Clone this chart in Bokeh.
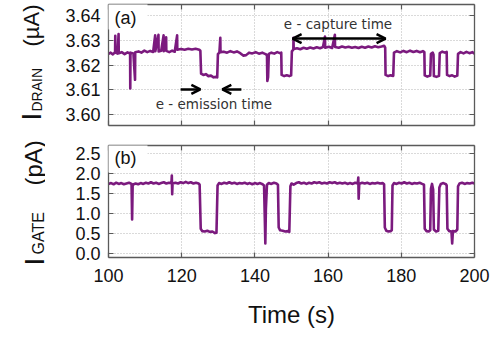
from math import pi
from bokeh.plotting import figure
from bokeh.models import (Range1d, LinearAxis, FixedTicker, Label, Arrow, OpenHead,
                          BoxAnnotation, CustomJSTickFormatter)
from bokeh.layouts import column, row
from bokeh.embed import file_html
from bokeh.resources import INLINE

# ---------------- data ----------------
x_ticks = [100, 120, 140, 160, 180, 200]
drain_ticks = [3.60, 3.61, 3.62, 3.63, 3.64]
gate_ticks = [0.0, 0.5, 1.0, 1.5, 2.0, 2.5]

drain_trace = [
    (100.0, 3.6245), (100.6, 3.6250), (101.2, 3.6243), (101.8, 3.6252), (101.85, 3.6318), (101.9, 3.6250),
    (102.5, 3.6246), (102.75, 3.6325), (102.8, 3.6248), (103.6, 3.6252), (104.4, 3.6244), (105.2, 3.6251),
    (105.9, 3.6246), (105.95, 3.6105), (106.0, 3.6250), (106.8, 3.6247), (107.25, 3.6140), (107.3, 3.6252),
    (108.2, 3.6255), (109.0, 3.6250), (109.8, 3.6258), (110.6, 3.6252), (111.4, 3.6257), (112.2, 3.6253),
    (112.75, 3.6320), (112.8, 3.6256), (113.65, 3.6322), (113.7, 3.6255), (114.4, 3.6258), (115.05, 3.6320),
    (115.1, 3.6256), (115.75, 3.6312), (115.8, 3.6257), (116.6, 3.6252), (117.4, 3.6258), (118.1, 3.6254),
    (118.75, 3.6320), (118.8, 3.6262), (119.8, 3.6265), (120.8, 3.6262), (121.8, 3.6266), (122.8, 3.6263),
    (123.8, 3.6266), (124.8, 3.6262), (125.1, 3.6258), (125.3, 3.6165), (125.9, 3.6160), (126.6, 3.6163),
    (127.3, 3.6155), (128.0, 3.6157), (128.7, 3.6150), (129.4, 3.6152), (129.7, 3.6150), (129.9, 3.6245),
    (130.3, 3.6250), (130.55, 3.6310), (130.6, 3.6252), (131.5, 3.6254), (132.4, 3.6250), (133.3, 3.6256),
    (134.2, 3.6251), (135.1, 3.6255), (136.0, 3.6248), (136.8, 3.6238), (137.6, 3.6240), (138.4, 3.6250),
    (139.3, 3.6247), (140.2, 3.6252), (141.1, 3.6246), (142.0, 3.6250), (142.9, 3.6244), (143.3, 3.6240),
    (143.4, 3.6135), (143.6, 3.6150), (143.8, 3.6245), (144.5, 3.6250), (145.3, 3.6246), (146.1, 3.6252),
    (146.8, 3.6248), (147.2, 3.6250), (147.3, 3.6160), (148.0, 3.6155), (148.7, 3.6158), (149.4, 3.6155),
    (149.9, 3.6158), (150.1, 3.6255), (150.5, 3.6262), (150.55, 3.6310), (150.6, 3.6265), (151.5, 3.6268),
    (152.4, 3.6264), (153.3, 3.6270), (154.2, 3.6266), (155.1, 3.6271), (156.0, 3.6267), (156.9, 3.6272),
    (157.8, 3.6268), (158.6, 3.6273), (159.15, 3.6315), (159.2, 3.6270), (160.2, 3.6274), (161.1, 3.6269),
    (161.85, 3.6322), (161.9, 3.6273), (162.9, 3.6270), (163.8, 3.6275), (164.7, 3.6271), (165.6, 3.6274),
    (166.5, 3.6270), (167.4, 3.6273), (168.3, 3.6269), (169.2, 3.6274), (170.1, 3.6270), (171.0, 3.6275),
    (171.9, 3.6271), (172.8, 3.6276), (173.7, 3.6272), (174.6, 3.6275), (175.3, 3.6278), (175.6, 3.6270),
    (175.7, 3.6160), (176.4, 3.6155), (177.1, 3.6158), (177.8, 3.6156), (178.0, 3.6250), (178.8, 3.6256),
    (179.7, 3.6251), (180.6, 3.6257), (181.5, 3.6252), (182.4, 3.6258), (183.3, 3.6253), (184.2, 3.6257),
    (185.1, 3.6252), (185.9, 3.6256), (186.3, 3.6252), (186.4, 3.6158), (187.1, 3.6153), (187.9, 3.6157),
    (188.1, 3.6245), (188.6, 3.6250), (188.8, 3.6242), (188.9, 3.6155), (189.6, 3.6152), (190.3, 3.6156),
    (190.5, 3.6248), (191.2, 3.6254), (191.9, 3.6250), (192.4, 3.6253), (192.5, 3.6160), (193.2, 3.6155),
    (193.9, 3.6158), (194.6, 3.6153), (195.3, 3.6157), (195.5, 3.6245), (196.2, 3.6252), (197.0, 3.6247),
    (197.8, 3.6253), (198.6, 3.6248), (199.4, 3.6252), (200.0, 3.6246),
]

gate_trace = [
    (100.0, 1.74), (100.7, 1.76), (101.4, 1.73), (102.1, 1.77), (102.8, 1.74), (103.5, 1.76), (104.2, 1.73),
    (104.9, 1.75), (105.6, 1.77), (106.3, 1.74), (106.45, 0.85), (106.6, 1.72), (107.4, 1.75), (108.1, 1.73),
    (108.8, 1.76), (109.5, 1.74), (110.2, 1.77), (110.9, 1.75), (111.6, 1.78), (112.3, 1.75), (113.0, 1.77),
    (113.7, 1.74), (114.4, 1.76), (115.1, 1.78), (115.8, 1.75), (116.5, 1.77), (117.2, 1.76), (117.3, 1.95),
    (117.4, 1.48), (117.5, 1.75), (118.3, 1.77), (119.0, 1.75), (119.7, 1.78), (120.4, 1.76), (121.1, 1.79),
    (121.8, 1.76), (122.5, 1.78), (123.2, 1.75), (123.9, 1.77), (124.6, 1.75), (124.9, 1.72), (125.2, 0.62),
    (125.6, 0.56), (126.3, 0.55), (127.0, 0.57), (127.7, 0.54), (128.4, 0.55), (129.1, 0.51), (129.5, 0.52),
    (129.8, 1.70), (130.2, 1.76), (130.9, 1.74), (131.6, 1.77), (132.3, 1.75), (133.0, 1.78), (133.7, 1.75),
    (134.4, 1.77), (135.1, 1.74), (135.8, 1.76), (136.5, 1.75), (137.2, 1.77), (137.9, 1.74), (138.6, 1.76),
    (139.3, 1.73), (140.0, 1.76), (140.7, 1.74), (141.4, 1.76), (142.1, 1.73), (142.5, 1.70), (142.7, 0.90),
    (142.85, 0.25), (143.0, 1.10), (143.3, 1.72), (143.8, 1.76), (144.5, 1.74), (145.2, 1.77), (145.9, 1.75),
    (146.3, 1.72), (146.5, 0.65), (146.9, 0.58), (147.6, 0.57), (148.3, 0.55), (149.0, 0.56), (149.4, 0.54),
    (149.7, 1.68), (150.0, 1.75), (150.6, 1.72), (151.3, 1.76), (152.0, 1.78), (152.7, 1.75), (153.4, 1.77),
    (154.1, 1.74), (154.8, 1.77), (155.5, 1.75), (156.2, 1.78), (156.9, 1.76), (157.6, 1.78), (158.3, 1.75),
    (159.0, 1.77), (159.7, 1.75), (160.4, 1.78), (161.1, 1.76), (161.8, 1.78), (162.5, 1.75), (163.2, 1.77),
    (163.9, 1.75), (164.6, 1.77), (165.3, 1.74), (166.0, 1.76), (166.7, 1.74), (167.4, 1.77), (168.1, 1.75),
    (168.25, 1.90), (168.35, 1.37), (168.5, 1.74), (169.3, 1.77), (170.0, 1.75), (170.7, 1.77), (171.4, 1.74),
    (172.1, 1.76), (172.8, 1.75), (173.5, 1.77), (174.2, 1.75), (174.9, 1.76), (175.3, 1.73), (175.5, 0.65),
    (175.9, 0.57), (176.5, 0.55), (177.1, 0.56), (177.4, 0.58), (177.6, 1.70), (178.0, 1.76), (178.7, 1.74),
    (179.4, 1.77), (180.1, 1.75), (180.8, 1.78), (181.5, 1.75), (182.2, 1.77), (182.9, 1.74), (183.6, 1.76),
    (184.3, 1.75), (185.0, 1.77), (185.7, 1.74), (186.2, 1.72), (186.4, 0.62), (186.9, 0.56), (187.5, 0.55),
    (187.9, 0.58), (188.1, 1.62), (188.4, 1.74), (188.7, 1.60), (188.9, 0.60), (189.5, 0.55), (190.1, 0.57),
    (190.4, 1.65), (190.8, 1.74), (191.5, 1.76), (192.2, 1.73), (192.4, 1.70), (192.6, 0.62), (193.1, 0.56),
    (193.7, 0.55), (193.9, 0.25), (194.1, 0.56), (194.8, 0.55), (195.3, 0.60), (195.5, 1.68), (195.9, 1.75),
    (196.6, 1.77), (197.3, 1.74), (198.0, 1.76), (198.7, 1.75), (199.4, 1.77), (200.0, 1.75),
]

drain_time = [p[0] for p in drain_trace]
drain_current = [p[1] for p in drain_trace]
gate_time = [p[0] for p in gate_trace]
gate_current = [p[1] for p in gate_trace]

# ---------------- styling ----------------
FONT = "Liberation Sans"
PURPLE = "#7b1a7e"
AXC = "#5a5a5a"
GRIDC = "#b5b5b5"
STRIP_W = 45          # width of the strip that holds the rotated y titles
MAIN_W = 490 - STRIP_W
EMPTY = CustomJSTickFormatter(code="return ''")


def style_axis(ax, labels=True):
    ax.axis_line_color = AXC
    ax.axis_line_width = 1.3
    ax.major_tick_line_color = AXC
    ax.major_tick_line_width = 1.2
    ax.major_tick_in = 5
    ax.major_tick_out = 0
    ax.minor_tick_line_color = None
    if labels:
        ax.major_label_text_font = FONT
        ax.major_label_text_font_size = "18px"
        ax.major_label_text_color = "#111111"
    else:
        ax.formatter = EMPTY
        ax.major_label_standoff = 0


def make_panel(height, top, bottom, y0, y1, yticks, fmt_digits, show_x_labels):
    p = figure(width=MAIN_W, height=height, output_backend="svg", toolbar_location=None,
               x_range=Range1d(100, 200), y_range=Range1d(y0, y1),
               min_border_left=108 - STRIP_W, min_border_right=16,
               min_border_top=top, min_border_bottom=bottom)
    p.outline_line_color = None
    p.background_fill_color = "white"
    p.border_fill_color = "white"
    xt = FixedTicker(ticks=x_ticks)
    yt = FixedTicker(ticks=yticks)
    bx = p.below[0]
    ly = p.left[0]
    bx.ticker = xt
    ly.ticker = yt
    style_axis(bx, labels=show_x_labels)
    if show_x_labels:
        bx.major_label_standoff = 11
    style_axis(ly, labels=True)
    ly.major_label_standoff = 8
    ly.major_label_overrides = {v: f"{v:.{fmt_digits}f}" for v in yticks}
    top_ax = LinearAxis(ticker=xt)
    style_axis(top_ax, labels=False)
    right_ax = LinearAxis(ticker=yt)
    style_axis(right_ax, labels=False)
    p.add_layout(top_ax, "above")
    p.add_layout(right_ax, "right")
    p.xgrid.ticker = xt
    p.ygrid.ticker = yt
    for g in (p.xgrid, p.ygrid):
        g.grid_line_color = GRIDC
        g.grid_line_dash = "1 2"
        g.grid_line_width = 1
    return p


# full-height strip on the left for the rotated y titles (pixel coordinates, y down)
strip = figure(width=STRIP_W, height=338, output_backend="svg", toolbar_location=None,
               x_range=Range1d(0, STRIP_W), y_range=Range1d(338, 0),
               x_axis_location=None, y_axis_location=None,
               min_border_left=0, min_border_right=0, min_border_top=0, min_border_bottom=0)
strip.grid.visible = False
strip.outline_line_color = None
strip.background_fill_color = "white"
strip.border_fill_color = "white"


def rot_label(px, py, text, size):
    strip.add_layout(Label(x=px, y=py, text=text, angle=pi / 2,
                           text_font=FONT, text_font_size=size, text_color="#111111",
                           text_align="left", text_baseline="alphabetic"))


rot_label(31, 120, "I", "28px")
rot_label(36, 111, "DRAIN", "14px")
rot_label(31, 46, "(\u00b5A)", "22px")
rot_label(34, 265, "I", "28px")
rot_label(38, 254, "GATE", "16px")
rot_label(33, 185, "(pA)", "24px")


# pixel -> data helpers for the frame of each panel (layout only)
def t_of(px):
    return 100 + (px - 108) / 3.66

def v1(py):
    return 3.5955 + (125 - py) * 0.049 / 121

def v2(py):
    return -0.1 + (257 - py) * 2.8 / 112


# ---------- top panel: drain current ----------
p1 = make_panel(135, 4, 10, 3.5955, 3.6445, drain_ticks, 2, False)
p1.line(drain_time, drain_current, line_color=PURPLE, line_width=2.6, line_join="round")

p1.add_layout(BoxAnnotation(left=t_of(100), right=t_of(147), bottom=v1(29), top=v1(-2),
                            fill_color="white", fill_alpha=1, line_color=None, level="overlay"))
p1.add_layout(Label(x=t_of(114), y=v1(17), text="(a)", text_font=FONT, text_font_size="18px",
                    text_color="#111111", text_align="left", text_baseline="middle", level="overlay"))

p1.add_layout(Arrow(x_start=150.3, y_start=3.6307, x_end=175.7, y_end=3.6307,
                    start=OpenHead(size=9, line_width=2.5, line_color="black"),
                    end=OpenHead(size=9, line_width=2.5, line_color="black"),
                    line_width=2.5, line_color="black"))
p1.add_layout(Arrow(x_start=119.7, y_start=3.6101, x_end=125.1, y_end=3.6101,
                    end=OpenHead(size=9, line_width=2.5, line_color="black"),
                    line_width=2.5, line_color="black"))
p1.add_layout(Arrow(x_start=136.3, y_start=3.6101, x_end=131.1, y_end=3.6101,
                    end=OpenHead(size=9, line_width=2.5, line_color="black"),
                    line_width=2.5, line_color="black"))
p1.add_layout(Label(x=162.7, y=3.6368, text="e - capture time", text_font="DejaVu Sans",
                    text_font_size="13.5px", text_color="#333333",
                    text_align="center", text_baseline="middle"))
p1.add_layout(Label(x=128.8, y=3.6044, text="e - emission time", text_font="DejaVu Sans",
                    text_font_size="13.5px", text_color="#333333",
                    text_align="center", text_baseline="middle"))

# ---------- bottom panel: gate current ----------
p2 = make_panel(203, 10, 81, -0.1, 2.7, gate_ticks, 1, True)
p2.line(gate_time, gate_current, line_color=PURPLE, line_width=2.6, line_join="round")
xb = p2.below[0]
xb.axis_label = "Time (s)"
xb.axis_label_text_font = FONT
xb.axis_label_text_font_size = "24px"
xb.axis_label_text_font_style = "normal"
xb.axis_label_text_color = "#111111"
xb.axis_label_standoff = 16

p2.add_layout(BoxAnnotation(left=t_of(100), right=t_of(147), bottom=v2(172), top=v2(140),
                            fill_color="white", fill_alpha=1, line_color=None, level="overlay"))
p2.add_layout(Label(x=t_of(114), y=v2(157), text="(b)", text_font=FONT, text_font_size="18px",
                    text_color="#111111", text_align="left", text_baseline="middle", level="overlay"))

layout = row(strip, column(p1, p2))
open("out.html", "w").write(file_html(layout, INLINE))
